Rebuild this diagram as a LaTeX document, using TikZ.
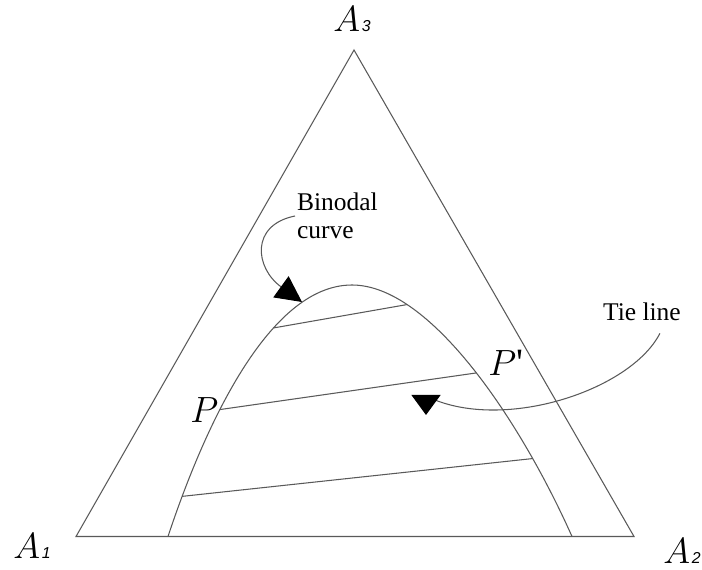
\documentclass[tikz,border=0pt]{standalone}
\usepackage{fontspec}
\setmainfont{Liberation Serif}
\newfontfamily\subfont{Liberation Sans}
\usetikzlibrary{arrows.meta, positioning}
\newcommand{\corner}[1]{$A$\kern1pt{\subfont\itshape\fontsize{9}{9}\selectfont #1}}

\begin{document}
\begin{tikzpicture}[
  edge/.style={line width=0.6pt, draw=black!65},
  lab/.style={font=\fontsize{22}{24}\selectfont, inner sep=0pt, anchor=base west},
  note/.style={font=\fontsize{14.5}{16}\selectfont, align=left, inner sep=1pt},
  pointer/.style={line width=0.6pt, draw=black!65},
  >={Triangle[length=0.52cm, width=0.52cm, black]}
]
  \useasboundingbox (0,0) rectangle (14.04,11.38);

  % triangle
  \coordinate (a1) at (1.52,0.65);
  \coordinate (a2) at (12.68,0.65);
  \coordinate (a3) at (7.08,10.38);
  \draw[edge] (a1) -- (a2) -- (a3) -- cycle;
  \node[lab] (l1) at (0.26,0.22) {\corner{1}};
  \node[lab] (l2) at (13.26,0.12) {\corner{2}};
  \node[lab] (l3) at (6.66,10.74) {\corner{3}};

  % binodal curve, with the ends of the tie lines on it
  \draw[edge] (3.36,0.65) .. controls (4.00,2.58) and (5.30,5.68) .. (7.04,5.68)
      coordinate[pos=0.13] (p3) coordinate[pos=0.39] (p2) coordinate[pos=0.67] (p1)
    .. controls (8.60,5.68) and (10.40,2.98) .. (11.44,0.65)
      coordinate[pos=0.23] (q1) coordinate[pos=0.52] (q2) coordinate[pos=0.78] (q3);

  % tie lines
  \foreach \i in {1,2,3}
    \draw[edge] (p\i) -- (q\i);
  \node[lab] (P) at (3.80,2.92) {$P$};
  \node[lab] (Pp) at (9.76,3.86) {$P$\textquotesingle};

  % labels with pointers
  \node[note, anchor=west] (bin) at (5.90,7.06) {Binodal\\curve};
  \draw[pointer, ->] (bin.west) .. controls (5.00,6.88) and (5.10,6.02) .. (6.04,5.34);

  \node[note, anchor=base west] (tie) at (12.02,4.96) {Tie line};
  \draw[pointer, -{Triangle[length=0.4cm, width=0.58cm, black]}]
    ([xshift=0.36cm, yshift=-0.2cm]tie.south) .. controls (12.60,3.55) and (10.00,2.72) .. (8.52,3.46) -- (8.52,3.08);
\end{tikzpicture}
\end{document}
